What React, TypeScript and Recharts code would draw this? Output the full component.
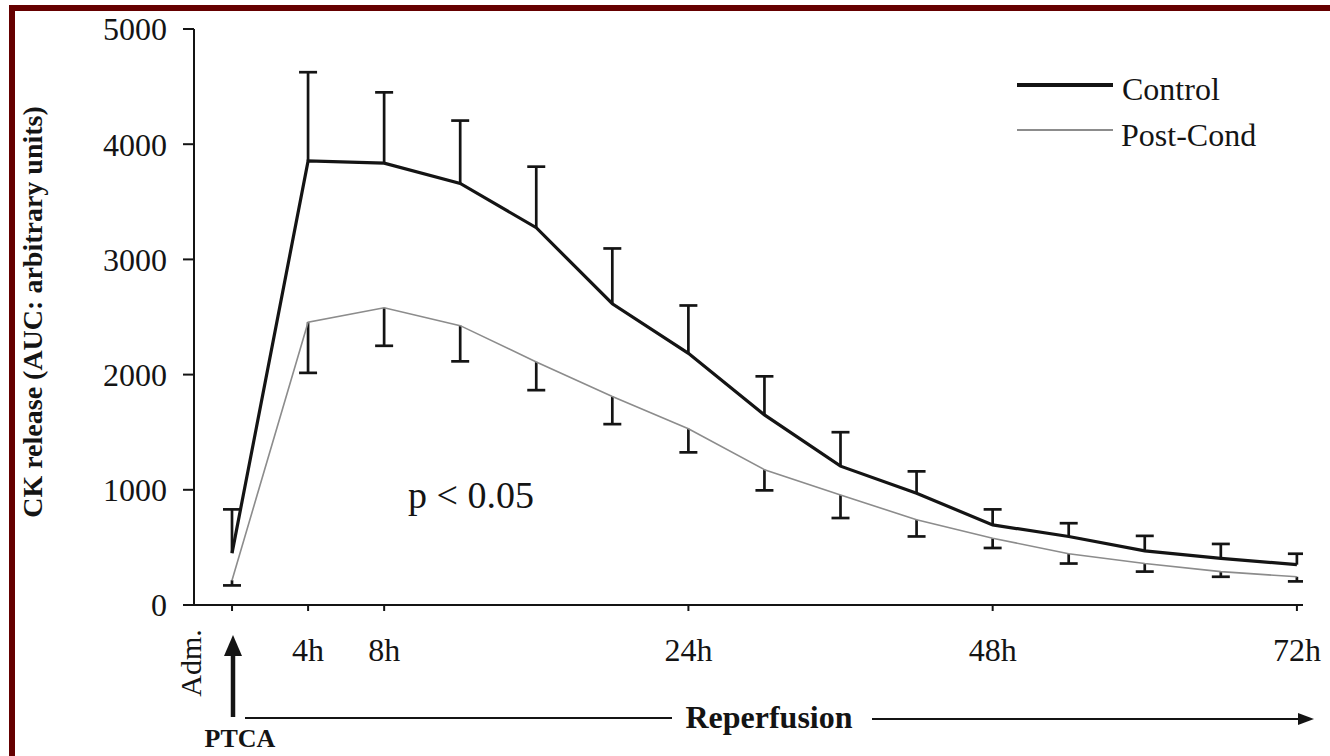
import React from 'react'
import { ComposedChart, Line, Bar, XAxis, YAxis, Legend } from 'recharts'

// sampling times, equally spaced on the axis
const timeLabels = ['Adm.', '4h', '8h', '12h', '16h', '20h', '24h', '30h', '36h', '42h', '48h', '54h', '60h', '66h', '72h']
const labelledTimes = ['Adm.', '4h', '8h', '24h', '48h', '72h']

// CK release (AUC, arbitrary units)
const controlMean = [450, 3855, 3835, 3660, 3275, 2615, 2185, 1650, 1205, 970, 695, 595, 470, 405, 350]
const controlUpper = [830, 4625, 4450, 4205, 3805, 3095, 2600, 1985, 1500, 1160, 830, 710, 600, 530, 445]
const postMean = [215, 2455, 2580, 2425, 2110, 1810, 1530, 1175, 955, 740, 580, 445, 360, 290, 245]
const postLower = [170, 2015, 2250, 2115, 1865, 1570, 1325, 995, 755, 595, 495, 360, 290, 245, 205]

const yTicks = [0, 1000, 2000, 3000, 4000, 5000]

const FONT = '"Liberation Serif", "Times New Roman", serif'
const INK = '#141414'
const GREY = '#8c8c8c'

const chartData = timeLabels.map((t, i) => ({
    pos: i,
    time: t,
    control: controlMean[i],
    controlErr: [controlMean[i], controlUpper[i]],
    post: postMean[i],
    postErr: [postLower[i], postMean[i]]
}))
const xTicks = labelledTimes.map(t => timeLabels.indexOf(t))

function TimeTick({ x, y, payload }: any) {
    const label = timeLabels[payload.value]
    if (label === 'Adm.') {
        const tx = x - 31
        const ty = y + 50
        return (
            <text x={tx} y={ty} transform={`rotate(-90, ${tx}, ${ty})`} textAnchor="middle"
                fontFamily={FONT} fontSize={30} fill={INK}>
                {label}
            </text>
        )
    }
    return (
        <text x={x} y={y + 48} textAnchor="middle" fontFamily={FONT} fontSize={32} fill={INK}>
            {label}
        </text>
    )
}

// error bar drawn upward from the mean (control)
function UpperBar(props: any) {
    const { x, y, width, height } = props
    const cx = x + width / 2
    const top = Math.min(y, y + height)
    const bottom = Math.max(y, y + height)
    return (
        <g stroke={INK} strokeWidth={2.7}>
            <line x1={cx} x2={cx} y1={top} y2={bottom} />
            <line x1={cx - 9} x2={cx + 9} y1={top} y2={top} />
        </g>
    )
}

// error bar drawn downward from the mean (post-conditioning)
function LowerBar(props: any) {
    const { x, y, width, height } = props
    const cx = x + width / 2
    const top = Math.min(y, y + height)
    const bottom = Math.max(y, y + height)
    return (
        <g stroke={INK} strokeWidth={2.7}>
            <line x1={cx} x2={cx} y1={top} y2={bottom} />
            <line x1={cx - 9} x2={cx + 9} y1={bottom} y2={bottom} />
        </g>
    )
}

function YTitle({ viewBox }: any) {
    const tx = viewBox.x + 32
    const ty = viewBox.y + viewBox.height / 2 - 5
    return (
        <text x={tx} y={ty} transform={`rotate(-90, ${tx}, ${ty})`} textAnchor="middle"
            fontFamily={FONT} fontSize={28} fontWeight="bold" fill={INK}>
            CK release (AUC: arbitrary units)
        </text>
    )
}

function LegendBox() {
    return (
        <svg width={280} height={90}>
            <line x1={2} x2={98} y1={20} y2={20} stroke={INK} strokeWidth={4} />
            <text x={107} y={35} fontFamily={FONT} fontSize={32} fill={INK}>Control</text>
            <line x1={2} x2={98} y1={65} y2={65} stroke={GREY} strokeWidth={2} />
            <text x={106} y={81} fontFamily={FONT} fontSize={32} fill={INK}>Post-Cond</text>
        </svg>
    )
}

export default function App() {
    return (
        <div style={{ position: 'absolute', left: 0, top: 0, width: 1330, height: 756, background: '#fff', overflow: 'hidden' }}>
            {/* frame */}
            <div style={{ position: 'absolute', left: 9, top: 5, width: 1321, height: 6, background: '#650000' }} />
            <div style={{ position: 'absolute', left: 9, top: 5, width: 6, height: 751, background: '#650000' }} />

            <div style={{ position: 'absolute', left: 0, top: 0 }}>
                <ComposedChart width={1330} height={756} data={chartData} barGap={-18}
                    margin={{ top: 29, right: 27, left: 10, bottom: 91 }}>
                    <XAxis
                        type="number"
                        dataKey="pos"
                        domain={[-0.5, 14.08]}
                        ticks={xTicks}
                        interval={0}
                        allowDataOverflow
                        height={60}
                        tick={<TimeTick />}
                        tickSize={6}
                        tickMargin={2}
                        axisLine={{ stroke: INK, strokeWidth: 2 }}
                        tickLine={{ stroke: INK, strokeWidth: 2 }}
                    />
                    <YAxis
                        domain={[0, 5000]}
                        ticks={yTicks}
                        width={184}
                        tickSize={11}
                        tickMargin={16}
                        tick={{ fill: INK, fontSize: 32, fontFamily: FONT }}
                        axisLine={{ stroke: INK, strokeWidth: 2 }}
                        tickLine={{ stroke: INK, strokeWidth: 2 }}
                        label={<YTitle />}
                    />
                    <Bar dataKey="controlErr" barSize={18} shape={<UpperBar />} isAnimationActive={false} />
                    <Bar dataKey="postErr" barSize={18} shape={<LowerBar />} isAnimationActive={false} />
                    <Line type="linear" dataKey="post" stroke={GREY} strokeWidth={1.6} dot={false} activeDot={false} isAnimationActive={false} />
                    <Line type="linear" dataKey="control" stroke={INK} strokeWidth={3.2} dot={false} activeDot={false} isAnimationActive={false} />
                    <Legend layout="vertical" align="center" verticalAlign="middle" content={<LegendBox />}
                        wrapperStyle={{ left: 1015, top: 65, width: 280, height: 90 }} />
                </ComposedChart>
            </div>

            {/* annotations under the axis */}
            <svg width={1330} height={756} style={{ position: 'absolute', left: 0, top: 0, pointerEvents: 'none' }}>
                <text x={408} y={508} fontFamily={FONT} fontSize={38} fill={INK}>p &lt; 0.05</text>

                <line x1={233} x2={233} y1={652} y2={717} stroke={INK} strokeWidth={4.5} />
                <polygon points="233,635 224,656 242,656" fill={INK} />
                <text x={240} y={747} textAnchor="middle" fontFamily={FONT} fontSize={26} fontWeight="bold" fill={INK}>PTCA</text>

                <line x1={245} x2={672} y1={718} y2={718} stroke={INK} strokeWidth={1.8} />
                <text x={769} y={728} textAnchor="middle" fontFamily={FONT} fontSize={32} fontWeight="bold" fill={INK}>Reperfusion</text>
                <line x1={872} x2={1302} y1={719} y2={719} stroke={INK} strokeWidth={1.8} />
                <polygon points="1314,719 1298,713 1298,725" fill={INK} />
            </svg>
        </div>
    )
}
